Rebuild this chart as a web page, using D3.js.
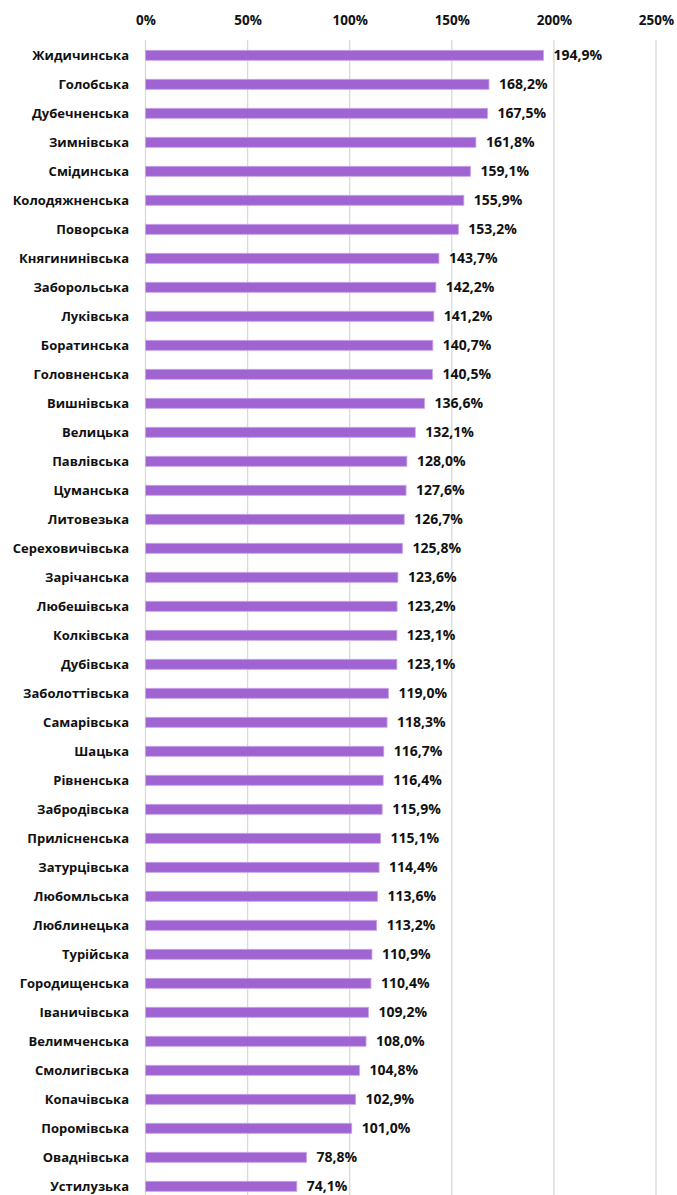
<!DOCTYPE html>
<html>
<head>
<meta charset="utf-8">
<script src="https://cdn.jsdelivr.net/npm/d3@7"></script>
<style>
  body { margin: 0; background: #fff; }
  text { font-family: "Open Sans", "DejaVu Sans", sans-serif; font-weight: 700; fill: #111; }
</style>
</head>
<body>
<div id="chartContainer"></div>
<script>
(function() {
    // --- data ---
    const hromadas = ["Жидичинська", "Голобська", "Дубечненська", "Зимнівська", "Смідинська",
        "Колодяжненська", "Поворська", "Княгининівська", "Заборольська", "Луківська",
        "Боратинська", "Головненська", "Вишнівська", "Велицька", "Павлівська",
        "Цуманська", "Литовезька", "Сереховичівська", "Зарічанська", "Любешівська",
        "Колківська", "Дубівська", "Заболоттівська", "Самарівська", "Шацька",
        "Рівненська", "Забродівська", "Прилісненська", "Затурцівська", "Любомльська",
        "Люблинецька", "Турійська", "Городищенська", "Іваничівська", "Велимченська",
        "Смолигівська", "Копачівська", "Поромівська", "Оваднівська", "Устилузька"];
    const percents = [194.9, 168.2, 167.5, 161.8, 159.1, 155.9, 153.2, 143.7, 142.2, 141.2,
        140.7, 140.5, 136.6, 132.1, 128.0, 127.6, 126.7, 125.8, 123.6, 123.2,
        123.1, 123.1, 119.0, 118.3, 116.7, 116.4, 115.9, 115.1, 114.4, 113.6,
        113.2, 110.9, 110.4, 109.2, 108.0, 104.8, 102.9, 101.0, 78.8, 74.1];
    const tickValues = [0, 50, 100, 150, 200, 250];

    const fullWidth = 677, fullHeight = 1195;
    const x0 = 145.5, x1 = 656;
    const top = 40.8, bottom = 1200.8;

    const svg = d3.select("#chartContainer").append("svg")
        .attr("width", fullWidth)
        .attr("height", fullHeight);

    const x = d3.scaleLinear().domain([0, 250]).range([x0, x1]);
    const y = d3.scaleBand()
        .domain(hromadas)
        .range([top, bottom])
        .paddingInner(0.655)
        .paddingOuter(0.3275);

    // gridlines
    svg.append("g")
        .selectAll("line")
        .data(tickValues)
        .join("line")
          .attr("x1", d => x(d)).attr("x2", d => x(d))
          .attr("y1", 40).attr("y2", fullHeight)
          .attr("stroke", "#d9d9d9")
          .attr("stroke-width", 1.3);

    // top axis labels
    const axis = d3.axisTop(x)
        .tickValues(tickValues)
        .tickSize(0)
        .tickPadding(0)
        .tickFormat(d => d + "%");
    svg.append("g")
        .attr("transform", "translate(0,25)")
        .call(axis)
        .call(g => g.select(".domain").remove())
        .selectAll("text")
          .style("font-size", "13.5px")
          .style("font-family", "'Open Sans', sans-serif")
          .style("font-weight", 700)
          .attr("fill", "#111");

    // bars
    svg.append("g")
        .selectAll("rect")
        .data(hromadas)
        .join("rect")
          .attr("x", x(0))
          .attr("y", d => y(d))
          .attr("width", (d, i) => x(percents[i]) - x(0))
          .attr("height", y.bandwidth())
          .attr("fill", "#a064d2")
          .attr("stroke", "#c9a3ea")
          .attr("stroke-width", 0.8);

    // category labels
    svg.append("g")
        .selectAll("text")
        .data(hromadas)
        .join("text")
          .attr("x", 129)
          .attr("y", d => y(d) + y.bandwidth() / 2)
          .attr("dy", "0.36em")
          .attr("text-anchor", "end")
          .style("font-size", "13px")
          .text(d => d);

    // value labels
    svg.append("g")
        .selectAll("text")
        .data(hromadas)
        .join("text")
          .attr("x", (d, i) => x(percents[i]) + 10)
          .attr("y", d => y(d) + y.bandwidth() / 2)
          .attr("dy", "0.36em")
          .style("font-size", "14px")
          .text((d, i) => percents[i].toFixed(1).replace(".", ",") + "%");
})();
</script>
</body>
</html>
